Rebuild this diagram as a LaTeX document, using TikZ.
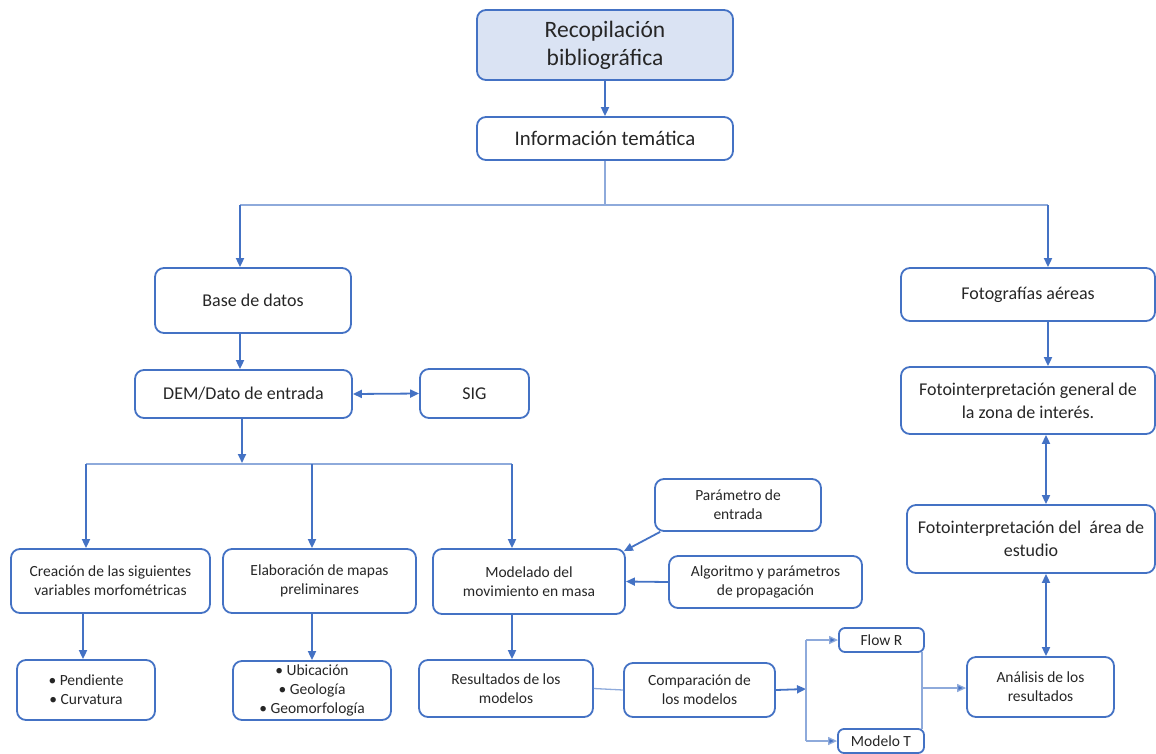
\documentclass[tikz,border=0pt]{standalone}
\usepackage{fontspec}
\setmainfont{Carlito}
\usetikzlibrary{arrows.meta,calc}
\definecolor{boxc}{HTML}{4472C4}
\definecolor{arrc}{HTML}{4472C4}
\definecolor{lightc}{HTML}{8EAADB}
\definecolor{fillc}{HTML}{DAE3F3}
\definecolor{txtc}{HTML}{262626}
\tikzset{
  box/.style={draw=boxc, line width=1.8pt, rounded corners=9pt, align=center, inner sep=0pt, text=txtc, font=\fontsize{15.5}{19}\selectfont},
  midbox/.style={box, font=\fontsize{18}{23}\selectfont},
  arr/.style={draw=arrc, line width=1.8pt, -{Triangle[length=9pt,width=8pt]}},
  darr/.style={draw=arrc, line width=1.8pt, {Triangle[length=9pt,width=8pt]}-{Triangle[length=9pt,width=8pt]}},
  lite/.style={draw=lightc, line width=1.3pt},
  litearr/.style={draw=lightc, line width=1.3pt, -{Triangle[length=9pt,width=8pt,fill=arrc]}},
}
\begin{document}
\begin{tikzpicture}[x=1pt,y=-1pt]
\useasboundingbox (0,0) rectangle (1156,753);
% nodes
\node[box, fill=fillc, minimum width=256pt, minimum height=70pt, font=\fontsize{23.5}{28}\selectfont] (rec) at (605,45) {Recopilación\\bibliográfica};
\node[box, minimum width=256pt, minimum height=43pt, font=\fontsize{20.8}{25}\selectfont] (inf) at (605,138.5) {Información temática};
\node[midbox, minimum width=196pt, minimum height=65pt] (base) at (253,300.5) {Base de datos};
\node[midbox, minimum width=217pt, minimum height=48pt] (dem) at (243.5,394) {DEM/Dato de entrada};
\node[midbox, minimum width=109pt, minimum height=49pt] (sig) at (474.5,393.5) {SIG};
\node[box, minimum width=199pt, minimum height=64pt] (crea) at (110.5,581) {Creación de las siguientes\\variables morfométricas};
\node[box, minimum width=193pt, minimum height=64pt] (elab) at (319.5,581) {Elaboración de mapas\\preliminares};
\node[box, minimum width=192pt, minimum height=65pt] (mod) at (529,581.5) {Modelado del\\movimiento en masa};
\node[box, minimum width=166pt, minimum height=52pt] (par) at (738,505) {Parámetro de\\entrada};
\node[box, minimum width=193pt, minimum height=52pt] (alg) at (765.5,582) {Algoritmo y parámetros\\de propagación};
\node[box, minimum width=138pt, minimum height=60pt] (pend) at (86,690) {\textbullet{} Pendiente\\\textbullet{} Curvatura};
\node[box, minimum width=158pt, minimum height=59pt, font=\fontsize{15.5}{19}\selectfont] (ubi) at (312,690.5) {\textbullet{} Ubicación\\\textbullet{} Geología\\\textbullet{} Geomorfología};
\node[box, minimum width=174pt, minimum height=57pt] (res) at (506,688.5) {Resultados de los\\modelos};
\node[box, minimum width=151pt, minimum height=54pt] (comp) at (699.5,690) {Comparación de\\los modelos};
\node[box, minimum width=85pt, minimum height=24pt, rounded corners=6pt] (flow) at (881.5,640) {Flow R};
\node[box, minimum width=86pt, minimum height=24pt, rounded corners=6pt] (modt) at (881,741) {Modelo T};
\node[box, minimum width=147pt, minimum height=60pt] (ana) at (1040.5,687) {Análisis de los\\resultados};
\node[midbox, minimum width=254pt, minimum height=53pt] (foto) at (1028,294.5) {Fotografías aéreas};
\node[midbox, minimum width=254pt, minimum height=67pt] (fgen) at (1028,400.5) {Fotointerpretación general de\\la zona de interés.};
\node[midbox, minimum width=248pt, minimum height=68pt] (farea) at (1031,539) {Fotointerpretación del\ \ área de\\estudio};
% coordinates
\coordinate (b1) at (605,205);
\coordinate (bl) at (240,205);
\coordinate (br) at (1048,205);
\coordinate (c1) at (242,464);
\coordinate (cl) at (86,464);
\coordinate (cm) at (312,464);
\coordinate (cr) at (512,464);
\coordinate (sp) at (806,689);
\coordinate (spt) at (806,640);
\coordinate (spb) at (806,741);
\coordinate (jt) at (922,652);
\coordinate (jb) at (922,729);
\coordinate (jm) at (922,688);
% connectors
\draw[arr] (rec) -- (inf);
\draw[lite] (inf.south) -- (b1);
\draw[lite] (bl) -- (br);
\draw[arr] (bl) -- (bl |- base.north);
\draw[arr] (br) -- (br |- foto.north);
\draw[arr] (bl |- base.south) -- (bl |- dem.north);
\draw[darr] (dem.east) -- (sig.west);
\draw[arr] (c1 |- dem.south) -- ([yshift=1pt]c1);
\draw[lite] (cl) -- (cr);
\draw[arr] (cl) -- (cl |- crea.north);
\draw[arr] (cm) -- (cm |- elab.north);
\draw[arr] (cr) -- (cr |- mod.north);
\draw[arr] ([xshift=6pt]par.south west) -- ([xshift=-2pt,yshift=-3pt]mod.north east);
\draw[arr] (alg.west) -- (mod.east);
\draw[arr] ([xshift=-3pt]pend.north |- crea.south) -- ([xshift=-3pt]pend.north);
\draw[arr] (ubi.north |- elab.south) -- (ubi.north);
\draw[arr] (cr |- mod.south) -- (cr |- res.north);
\draw[lite] (res.east) -- (comp.west);
\draw[arr] (comp.east) -- (sp);
\draw[lite] (spt) -- (spb);
\draw[litearr] (spt) -- (flow.west);
\draw[litearr] (spb) -- (modt.west);
\draw[lite] (jt) -- (jb);
\draw[litearr] (jm) -- (jm -| ana.west);
\draw[arr] (foto.south -| br) -- (fgen.north -| br);
\draw[darr] ([xshift=-2pt]fgen.south -| br) -- ([xshift=-2pt]farea.north -| br);
\draw[darr] ([xshift=-2pt]farea.south -| br) -- ([xshift=-2pt]ana.north -| br);
\end{tikzpicture}
\end{document}
